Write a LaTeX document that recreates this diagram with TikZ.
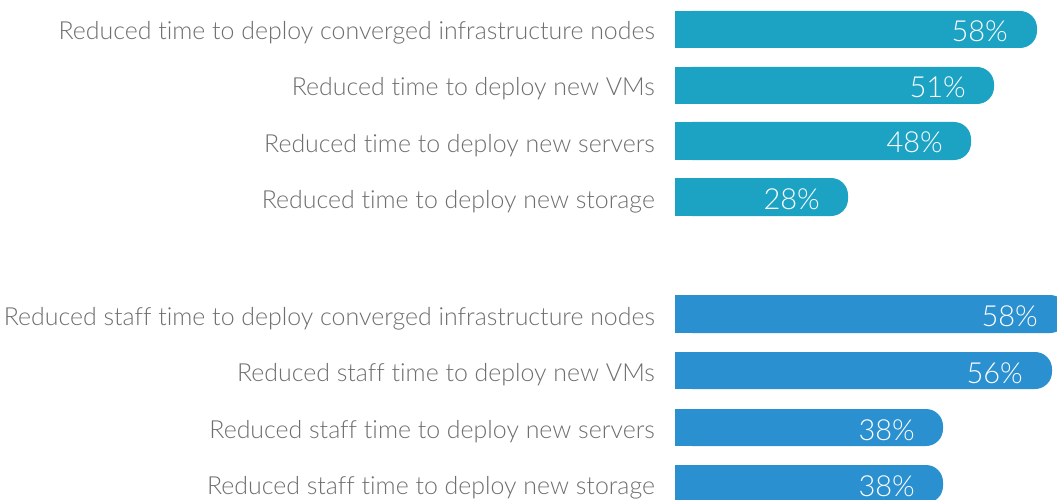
\documentclass[tikz,border=0pt]{standalone}
\usepackage{fontspec}
\setmainfont{Lato Light}[Ligatures={NoCommon}]
\usepackage{tikz}

\definecolor{barteal}{RGB}{28,163,196}
\definecolor{barblue}{RGB}{42,144,208}
\definecolor{labelgray}{RGB}{110,110,110}

\tikzset{
  lbl/.style={anchor=base east, inner sep=0pt, text=labelgray, font=\fontsize{24.9}{25}\selectfont},
  pct/.style={anchor=base east, inner sep=0pt, text=white, font=\fontsize{29}{29}\selectfont},
}

\begin{document}
\begin{tikzpicture}[x=1pt,y=1pt,yscale=-1,xscale=1]
\useasboundingbox (0,0) rectangle (1057,500);

%Bars, first group
\fill [barteal, rounded corners=17] (675,11) rectangle (1037,48);
\fill [barteal] (675,11) rectangle (700,48);
\fill [barteal, rounded corners=17] (675,67) rectangle (994,104);
\fill [barteal] (675,67) rectangle (700,104);
\fill [barteal, rounded corners=17] (675,122) rectangle (971,160);
\fill [barteal] (675,122) rectangle (700,160);
\fill [barteal, rounded corners=17] (675,178) rectangle (848,216);
\fill [barteal] (675,178) rectangle (700,216);

%Bars, second group
\fill [barblue, rounded corners=17] (675,295) rectangle (1067,333);
\fill [barblue] (675,295) rectangle (700,333);
\fill [barblue, rounded corners=17] (675,352) rectangle (1052,389);
\fill [barblue] (675,352) rectangle (700,389);
\fill [barblue, rounded corners=17] (675,409) rectangle (943,446);
\fill [barblue] (675,409) rectangle (700,446);
\fill [barblue, rounded corners=17] (675,465) rectangle (943,503);
\fill [barblue] (675,465) rectangle (700,503);

% Text Node
\node [lbl] (l1) at (655,40) {Reduced time to deploy converged infrastructure nodes};
\node [lbl] (l2) at (655,96) {Reduced time to deploy new VMs};
\node [lbl] (l3) at (655,152) {Reduced time to deploy new servers};
\node [lbl] (l4) at (655,208) {Reduced time to deploy new storage};
% Text Node
\node [lbl] (l5) at (655,325) {Reduced staff time to deploy converged infrastructure nodes};
\node [lbl] (l6) at (655,381) {Reduced staff time to deploy new VMs};
\node [lbl] (l7) at (655,438) {Reduced staff time to deploy new servers};
\node [lbl] (l8) at (655,494) {Reduced staff time to deploy new storage};

% Percent Node
\node [pct] (p1) at (1008,42) {58\%};
\node [pct] (p2) at (966,98) {51\%};
\node [pct] (p3) at (943,153) {48\%};
\node [pct] (p4) at (820,209) {28\%};
\node [pct] (p5) at (1038,326) {58\%};
\node [pct] (p6) at (1023,383) {56\%};
\node [pct] (p7) at (915,440) {38\%};
\node [pct] (p8) at (915,496) {38\%};

\end{tikzpicture}
\end{document}
